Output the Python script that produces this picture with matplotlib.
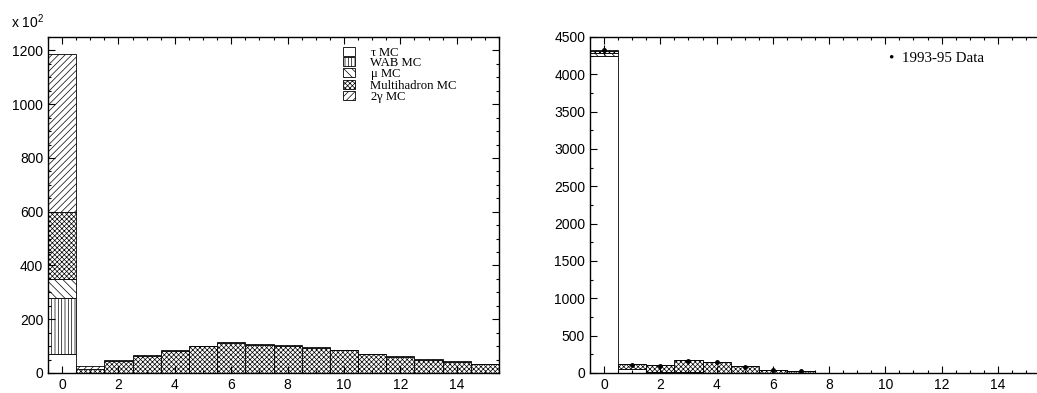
import numpy as np
import matplotlib
matplotlib.use('Agg')
import matplotlib.pyplot as plt
from matplotlib.patches import Patch
from matplotlib.ticker import MultipleLocator

plt.rcParams['font.family'] = ['Liberation Sans', 'DejaVu Sans']
plt.rcParams['hatch.linewidth'] = 0.5

# bin centres (bin 0 holds the big peak)
bins = np.arange(16)

# left panel, events x 10^2, stacked bottom -> top
tau_l = [70, 0, 0, 0, 0, 0, 0, 0, 0, 0, 0, 0, 0, 0, 0, 0]
wab_l = [210, 0, 0, 0, 0, 0, 0, 0, 0, 0, 0, 0, 0, 0, 0, 0]
mu_l = [70, 0, 0, 0, 0, 0, 0, 0, 0, 0, 0, 0, 0, 0, 0, 0]
multi_l = [250, 15, 44, 63, 82, 99, 112, 105, 101, 93, 84, 69, 59, 48, 41, 32]
gg_l = [585, 10, 3, 3, 3, 3, 3, 3, 3, 3, 3, 3, 3, 3, 3, 3]

# right panel, events
tau_r = [4250, 60, 20, 10, 5, 3, 2, 1, 0, 0, 0, 0, 0, 0, 0, 0]
wab_r = [0] * 16
mu_r = [30, 0, 0, 0, 0, 0, 0, 0, 0, 0, 0, 0, 0, 0, 0, 0]
multi_r = [35, 56, 85, 160, 145, 87, 43, 29, 0, 0, 0, 0, 0, 0, 0, 0]
gg_r = [5, 0, 0, 0, 0, 0, 0, 0, 0, 0, 0, 0, 0, 0, 0, 0]

data_x = [0, 1, 2, 3, 4, 5, 6, 7]
data_y = [4330, 110, 100, 165, 150, 85, 40, 25]

labels = [r'$\mathregular{\tau}$ MC', 'WAB MC', r'$\mathregular{\mu}$ MC',
          'Multihadron MC', r'2$\mathregular{\gamma}$ MC']
hatches = ['', '|||||', '\\\\\\\\', 'xxxxxxx', '/////']


def draw_stack(ax, comps):
    bottom = np.zeros(len(bins))
    for vals, h in zip(comps, hatches):
        vals = np.array(vals, dtype=float)
        ax.bar(bins, vals, width=1.0, bottom=bottom, color='white',
               edgecolor='black', hatch=h, linewidth=0.6)
        bottom += vals


def style(ax, ymax, ymaj, ymin, right=True):
    ax.set_xlim(-0.5, 15.5)
    ax.set_ylim(0, ymax)
    ax.xaxis.set_major_locator(MultipleLocator(2))
    ax.xaxis.set_minor_locator(MultipleLocator(0.5))
    ax.yaxis.set_major_locator(MultipleLocator(ymaj))
    ax.yaxis.set_minor_locator(MultipleLocator(ymin))
    ax.tick_params(which='both', direction='in', top=True, right=right,
                   labelsize=10, width=0.8)
    ax.tick_params(which='major', length=5)
    ax.tick_params(which='minor', length=2.5)
    for s in ax.spines.values():
        s.set_linewidth(1.0)


fig = plt.figure(figsize=(10.37, 3.93), dpi=100)
W, H = 1037, 393
ax1 = fig.add_axes([48 / W, 20 / H, 451 / W, 336 / H])
ax2 = fig.add_axes([590 / W, 20 / H, 450 / W, 336 / H])

draw_stack(ax1, [tau_l, wab_l, mu_l, multi_l, gg_l])
style(ax1, 1250, 200, 50)
handles = [Patch(facecolor='white', edgecolor='black', hatch=h, linewidth=0.6)
           for h in hatches]
leg = ax1.legend(handles, labels, loc='upper right', bbox_to_anchor=(0.92, 0.99),
                 frameon=False, borderpad=0, labelspacing=-0.15,
                 handlelength=0.9, handleheight=0.7, handletextpad=1.2,
                 prop={'family': 'Liberation Serif', 'size': 9.2})
fig.text(11 / W, 1 - 22 / H, r'x 10$^{\mathregular{2}}$', fontsize=10,
         va='center', ha='left')

draw_stack(ax2, [tau_r, wab_r, mu_r, multi_r, gg_r])
ax2.errorbar(data_x, data_y, yerr=np.sqrt(data_y), fmt='o', color='black',
             markersize=2.5, elinewidth=0.8, capsize=0)
style(ax2, 4500, 500, 250, right=False)
ax2.text(0.665, 0.9375, u'\u2022  1993-95 Data', transform=ax2.transAxes,
         family='Liberation Serif', fontsize=10.8, va='center', ha='left')

fig.savefig('out.png', dpi=100)
